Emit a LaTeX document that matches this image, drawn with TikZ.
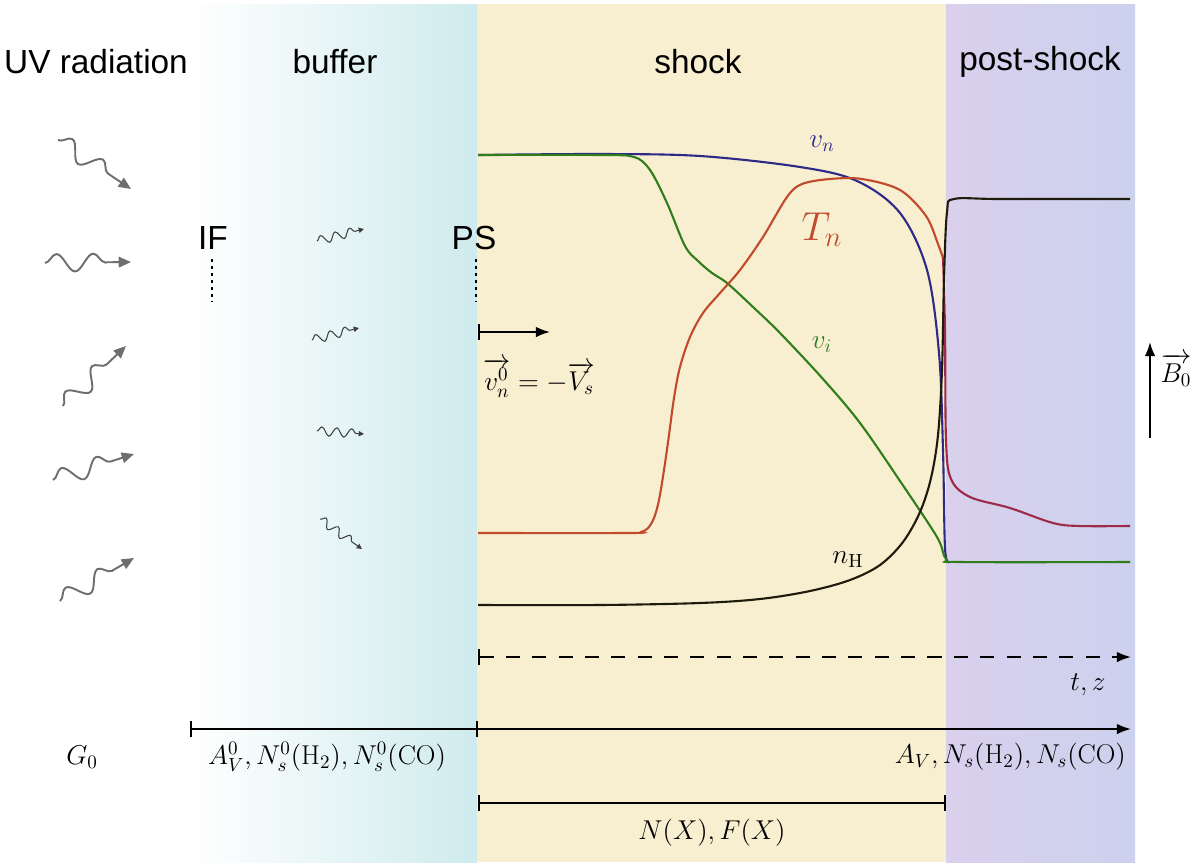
\RequirePackage{fix-cm}
\documentclass[tikz,border=0pt]{standalone}
\usepackage{amsmath,amssymb}
\usepackage{fontspec}
\usepackage{xcolor}
\usepackage{tikz}
\usetikzlibrary{arrows.meta,decorations.pathmorphing,positioning}
\newfontfamily\labelfont{Liberation Sans}

\definecolor{buffercol}{HTML}{CFEBED}
\definecolor{shockcol}{HTML}{F8EED0}
\definecolor{postleft}{HTML}{D9D0EC}
\definecolor{postright}{HTML}{CCD1EE}
\definecolor{vncol}{HTML}{2D2A88}
\definecolor{vicol}{HTML}{2F7D1B}
\definecolor{tncol}{HTML}{C24A2C}
\definecolor{tpcol}{HTML}{9C2A48}
\definecolor{nhcol}{HTML}{1F1B0C}
\definecolor{wavecol}{HTML}{6E6E6E}

\begin{document}
\begin{tikzpicture}[x=0.02cm, y=-0.02cm,
    zone/.style={font=\labelfont\fontsize{19}{22}\selectfont},
    bigwave/.style={draw=wavecol, line width=1.1pt, -{Triangle[length=7pt,width=6pt]},
      decorate, decoration={snake, amplitude=5pt, segment length=21pt, post length=7pt}},
    smallwave/.style={draw=black!75, line width=0.6pt, -{Triangle[length=3pt,width=3pt]},
      decorate, decoration={snake, amplitude=2.5pt, segment length=8.5pt, post length=3pt}},
    curve/.style={line width=1.2pt, smooth, tension=0.55},
    axis/.style={line width=1.1pt},
    front/.style={line width=1.7pt, dash pattern=on 1.8pt off 2.2pt},
    mlabel/.style={font=\fontsize{15.5}{18}\selectfont}]
                \useasboundingbox (0,0) rectangle (1200,866);
                
                % Regions
                \shade[left color=white, right color=buffercol] (190,4) rectangle (477,862);
                \fill[shockcol] (477,4) rectangle (946,862);
                \shade[left color=postleft, right color=postright] (946,4) rectangle (1135,862);
                
                % Titles
                \node[zone] (tuv) at (96,62) {UV radiation};
                \node[zone] (tbuf) at (335,62) {buffer};
                \node[zone] (tshock) at (698,62) {shock};
                \node[zone] (tpost) at (1040,62) {post-shock};
                
                % UV photons
                \foreach \xa/\ya/\xb/\yb in {58/140/131/189, 45/263/131/262, 63/406/126/346, 53/480/134/454, 60/601/134/558}
                    \draw[bigwave] (\xa,\ya) -- (\xb,\yb);
                \foreach \xa/\ya/\xb/\yb in {317/241/364/229, 312/340/359/328, 317/431/364/434, 320/519/362/549}
                    \draw[smallwave] (\xa,\ya) -- (\xb,\yb);
                
                % Fronts
                \node[zone] (ifr) at (213,238) {IF};
                \node[zone] (psf) at (474,238) {PS};
                \coordinate (ift) at (212,259);
                \coordinate (ifb) at (212,302);
                \coordinate (pst) at (476,259);
                \coordinate (psb) at (476,302);
                \draw[front] (ift) -- (ifb);
                \draw[front] (pst) -- (psb);
                
                % Curves
                \draw[curve, vncol] plot coordinates {(478,155) (600,154) (700,156) (800,167) (857,181) (900,213) (927,270) (939,353) (943,450) (945,548) (949,562)};
                \draw[curve, vicol] plot coordinates {(478,155) (600,155) (634,157) (650,170) (667,203) (685,246) (698,261) (712,273) (727,283) (753,307) (780,333) (823,379) (860,423) (900,481) (937,537) (946,559) (962,562) (1130,562)};
                \draw[curve, tncol] plot coordinates {(478,533) (628,533) (641,532) (648,528) (654,518) (659,500) (664,470) (669,435) (674,398) (680,367) (690,337) (703,313) (720,293) (740,270) (763,237) (787,197) (802,184) (830,179) (862,179) (900,190) (926,216) (938,244) (943,258)};
                \draw[curve, tpcol] plot coordinates {(943,258) (945,330) (946,440) (951,479) (970,497) (1010,508) (1053,523) (1080,526) (1130,526)};
                \draw[curve, nhcol] plot coordinates {(478,605) (600,605) (700,603) (760,599) (810,591) (850,580) (880,565) (903,542) (920,512) (931,478) (938,435) (942,370) (944,280) (947,212) (954,199) (1000,199) (1130,199)};
                
                % Curve labels
                \node[mlabel, text=vncol] (lvn) at (822,144) {$v_n$};
                \node[text=tncol, font=\fontsize{23}{26}\selectfont] (ltn) at (822,230) {$T_n$};
                \node[mlabel, text=vicol] (lvi) at (822,345) {$v_i$};
                \node[mlabel] (lnh) at (848,560) {$n_{\mathrm{H}}$};
                
                % Inflow velocity
                \coordinate (vs) at (478,332);
                \coordinate (ve) at (550,332);
                \draw[axis, {Bar[width=9pt]}-{Latex[length=8pt]}] (vs) -- (ve);
                \node[mlabel] (lvel) at (539,378) {$\overrightarrow{v_n^0} = -\overrightarrow{V_s}$};
                
                % Magnetic field
                \coordinate (bs) at (1150,438);
                \coordinate (be) at (1150,342);
                \draw[axis, -{Latex[length=8pt]}] (bs) -- (be);
                \node[mlabel] (lb) at (1176,370) {$\overrightarrow{B_0}$};
                
                % Time axis
                \coordinate (ts) at (478,657);
                \coordinate (te) at (1131,657);
                \draw[axis, dash pattern=on 8pt off 7pt, {Bar[width=9pt]}-{Latex[length=8pt]}] (ts) -- (te);
                \node[mlabel] (ltz) at (1088,685) {$t, z$};
                
                % Column axis
                \coordinate (cs) at (190,729);
                \coordinate (cm) at (477,729);
                \coordinate (ce) at (1131,729);
                \draw[axis, {Bar[width=9pt]}-{Latex[length=8pt]}] (cs) -- (ce);
                \draw[axis] ([yshift=4.5pt]cm) -- ([yshift=-4.5pt]cm);
                \node[mlabel] (lg) at (82,757) {$G_0$};
                \node[mlabel] (lc0) at (327,757) {$A_V^0, N_s^0(\mathrm{H}_2), N_s^0(\mathrm{CO})$};
                \node[mlabel, anchor=east] (lc) at (1132,757) {$A_V, N_s(\mathrm{H}_2), N_s(\mathrm{CO})$};
                
                % Shock width
                \coordinate (ws) at (478,803);
                \coordinate (we) at (946,803);
                \draw[axis, {Bar[width=9pt]}-{Bar[width=9pt]}] (ws) -- (we);
                \node[mlabel] (lnf) at (712,833) {$N(X), F(X)$};
            \end{tikzpicture}
\end{document}
